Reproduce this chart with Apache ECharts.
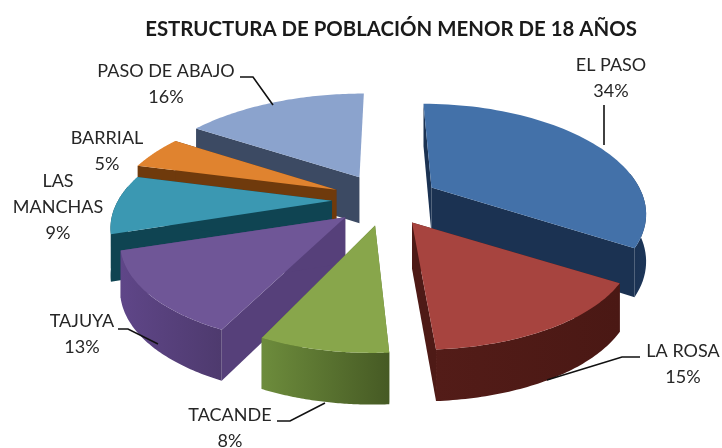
<!DOCTYPE html>
<html>
<head>
<meta charset="utf-8">
<title>Estructura de población</title>
<style>
  html, body { margin: 0; padding: 0; background: #fff; }
  #main { width: 722px; height: 448px; }
</style>
<script src="https://cdn.jsdelivr.net/npm/echarts@6/dist/echarts.min.js"></script>
</head>
<body>
<div id="main"></div>
<script>
// datos del grafico
const names = ['EL PASO', 'LA ROSA', 'TACANDE', 'TAJUYA', 'LAS\nMANCHAS', 'BARRIAL', 'PASO DE ABAJO']
const values = [34, 15, 8, 13, 9, 5, 16]

// colores
const topColors = ['#4371a9', '#a7443f', '#88a64b', '#6f5697', '#3b98b2', '#e0832f', '#8ba3cd']
const sideColors = ['#1b3252', '#4e1a16', '#5a7430', '#56407a', '#0f4452', '#6f3a0c', '#3c4a63']
const wallLeft = ['#1b3252', '#531c18', '#6d8c3c', '#5f4688', '#0f4452', '#6f3a0c', '#3c4a63']
const wallRight = ['#1c3558', '#4a1814', '#465a24', '#4e3a6e', '#0f4452', '#6f3a0c', '#3c4a63']

// ajuste de anchura de cada porcion
const widthScale = [0.98, 1.015, 1, 1.03, 1.01, 1.03, 1.03]

// posicion de las etiquetas [x, y] y lineas guia
const labelPos = [[611, 65], [683, 351], [230, 415], [82, 321], [58, 181], [107, 138], [166, 71]]
const leaderLines = [
  [[604, 105], [604, 145]],
  [[640, 357], [622, 357], [547, 380]],
  [[277, 421], [290, 421], [325, 403]],
  [[118, 329], [128, 329], [158, 344]],
  null,
  null,
  [[240, 77], [253, 77], [273, 105]]
]

// geometria de la tarta en perspectiva
const cx = 385, cy = 200
const explodeX = 53, explodeY = 26
const radiusX = 212, radiusY = 101
const persp = 0.207
const vanishX = 385
const depth = 46

const total = values.reduce((a, b) => a + b, 0)

function project (ax, ay, theta, r, scale) {
  const X = Math.sin(theta) * r
  const Z = -Math.cos(theta) * r
  const w = 1 - persp * Z
  return {
    x: ax + radiusX * scale * X / w + (ax - vanishX) * (1 / w - 1),
    y: ay + radiusY * Z / w,
    h: depth / Math.sqrt(w),
    front: Z > -0.15
  }
}

function renderSlice (params, api) {
  const i = params.dataIndex
  const val = api.value(0)
  let before = 0
  for (let k = 0; k < i; k++) before += values[k]
  const a0 = before / total * Math.PI * 2
  const a1 = (before + val) / total * Math.PI * 2
  const mid = (a0 + a1) / 2
  const ax = cx + explodeX * Math.sin(mid)
  const ay = cy - explodeY * Math.cos(mid)
  const base = Math.round(ay) * 10

  const arc = []
  const steps = 60
  for (let s = 0; s <= steps; s++) {
    arc.push(project(ax, ay, a0 + (a1 - a0) * s / steps, 1, widthScale[i]))
  }
  const apex = project(ax, ay, 0, 0, 1)
  const topPts = [[apex.x, apex.y]].concat(arc.map(p => [p.x, p.y]))
  const first = arc[0]
  const last = arc[steps]
  const side = (p) => [[apex.x, apex.y], [p.x, p.y], [p.x, p.y + p.h], [apex.x, apex.y + apex.h]]

  const children = [
    { type: 'polygon', z2: base, shape: { points: side(first) }, style: { fill: sideColors[i] } }
  ]
  // la cara final de la ultima porcion queda de espaldas
  if (i < values.length - 1) {
    children.push({ type: 'polygon', z2: base + 1, shape: { points: side(last) }, style: { fill: sideColors[i] } })
  }
  // la pared curva solo se ve en la parte delantera
  const frontArc = arc.filter(p => p.front)
  if (frontArc.length > 1) {
    const low = frontArc.map(p => [p.x, p.y + p.h])
    children.push({
      type: 'polygon',
      z2: base + 2,
      shape: { points: frontArc.map(p => [p.x, p.y]).concat(low.reverse()) },
      style: {
        fill: new echarts.graphic.LinearGradient(0, 0, 1, 0, [
          { offset: 0, color: wallLeft[i] },
          { offset: 1, color: wallRight[i] }
        ])
      }
    })
  }
  children.push({ type: 'polygon', z2: base + 3, shape: { points: topPts }, style: { fill: topColors[i] } })
  return { type: 'group', children }
}

function renderLabel (params, api) {
  const i = params.dataIndex
  const children = [{
    type: 'text',
    z2: 5000,
    style: {
      text: names[i] + '\n' + api.value(0) + '%',
      x: labelPos[i][0],
      y: labelPos[i][1] - 13,
      align: 'center',
      verticalAlign: 'top',
      fill: '#262626',
      font: '18px Lato',
      lineHeight: 26
    }
  }]
  if (leaderLines[i]) {
    children.push({
      type: 'polyline',
      z2: 5000,
      shape: { points: leaderLines[i] },
      style: { stroke: '#111', lineWidth: 1.6, fill: null }
    })
  }
  return { type: 'group', children }
}

const chart = echarts.init(document.getElementById('main'))
chart.setOption({
  animation: false,
  backgroundColor: '#fff',
  title: {
    text: 'ESTRUCTURA DE POBLACIÓN MENOR DE 18 AÑOS',
    left: 386,
    top: 14,
    textAlign: 'center',
    textStyle: { fontFamily: 'Lato', fontWeight: 'bold', fontSize: 20.4, color: '#1a1a1a' }
  },
  series: [
    { type: 'custom', coordinateSystem: 'none', renderItem: renderSlice, data: values.map(v => [v]) },
    { type: 'custom', coordinateSystem: 'none', renderItem: renderLabel, data: values.map(v => [v]), z: 3 }
  ]
})
</script>
</body>
</html>
